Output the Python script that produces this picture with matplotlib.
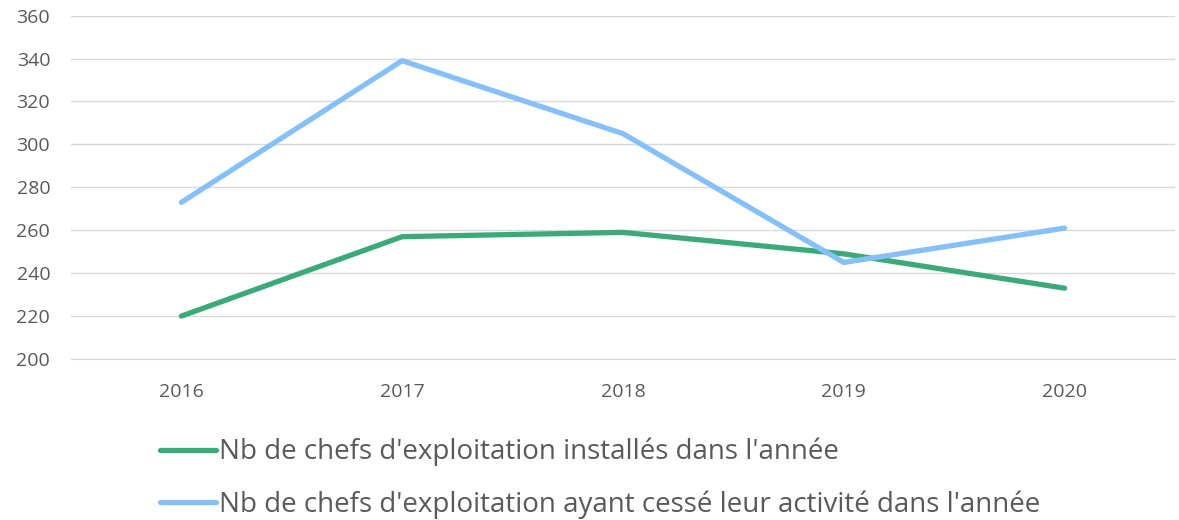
import matplotlib.pyplot as plt
import numpy as np

# données
annees = ['2016', '2017', '2018', '2019', '2020']
installes = [220, 257, 259, 249, 233]
cesses = [273, 339, 305, 245, 261]
label_installes = "Nb de chefs d'exploitation installés dans l'année"
label_cesses = "Nb de chefs d'exploitation ayant cessé leur activité dans l'année"
yticks = [200, 220, 240, 260, 280, 300, 320, 340, 360]

plt.rcParams['font.family'] = ['Open Sans', 'DejaVu Sans']

fig = plt.figure(figsize=(11.79, 5.2), dpi=100)
ax = fig.add_axes([0.0602, 0.3096, 0.9364, 0.6604])

x = np.arange(len(annees))
ax.plot(x, installes, color='#3BAA78', linewidth=3.8, solid_capstyle='round', label=label_installes)
ax.plot(x, cesses, color='#85C0FA', linewidth=3.8, solid_capstyle='round', label=label_cesses)

ax.set_xlim(-0.5, len(annees) - 0.5)
ax.set_ylim(200, 360)
ax.set_yticks(yticks)
ax.set_xticks(x)
ax.set_xticklabels(annees)
ax.grid(True, axis='y', color='#D9D9D9', linewidth=1)
ax.set_axisbelow(True)
for s in ax.spines.values():
    s.set_visible(False)
ax.spines['bottom'].set_visible(True)
ax.spines['bottom'].set_color('#D9D9D9')
ax.tick_params(length=0, labelsize=14, colors='#595959')
ax.tick_params(axis='x', pad=17)
ax.tick_params(axis='y', pad=15)

leg = fig.legend(loc='upper left', bbox_to_anchor=(0.1357, 0.158), frameon=False,
                 fontsize=20, handlelength=2.0, handletextpad=0.12,
                 labelspacing=0.86, borderpad=0, borderaxespad=0)
for t in leg.get_texts():
    t.set_color('#595959')

plt.savefig('out.png', dpi=100)
